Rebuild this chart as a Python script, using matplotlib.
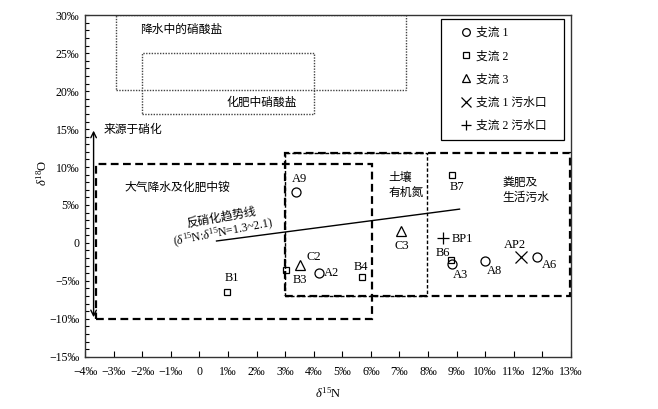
import matplotlib
matplotlib.use("Agg")
import matplotlib.pyplot as plt
from matplotlib.patches import Rectangle
from matplotlib.lines import Line2D

plt.rcParams['font.family'] = ['Liberation Serif', 'Noto Sans CJK SC']
plt.rcParams['mathtext.fontset'] = 'custom'
plt.rcParams['mathtext.rm'] = 'Liberation Serif'
plt.rcParams['mathtext.it'] = 'Liberation Serif:italic'
plt.rcParams['mathtext.bf'] = 'Liberation Serif:bold'
plt.rcParams['axes.unicode_minus'] = True

# ---------------- data ----------------
series_names = ['支流 1', '支流 2', '支流 3', '支流 1 污水口', '支流 2 污水口']
series_markers = ['o', 's', '^', 'x', '+']

# 支流 1 (circles)
s1_labels = ['A9', 'A2', 'A3', 'A8', 'A6']
s1_x = [3.37, 4.20, 8.85, 9.99, 11.80]
s1_y = [6.67, -4.00, -2.82, -2.38, -1.82]
# 支流 2 (squares)
s2_labels = ['B1', 'B3', 'B4', 'B7', 'B6']
s2_x = [0.98, 3.02, 5.70, 8.85, 8.79]
s2_y = [-6.43, -3.57, -4.53, 8.95, -2.25]
# 支流 3 (triangles)
s3_labels = ['C2', 'C3']
s3_x = [3.52, 7.05]
s3_y = [-2.91, 1.61]
# 支流 1 污水口 (x)
s4_labels = ['AP2']
s4_x = [11.24]
s4_y = [-1.90]
# 支流 2 污水口 (+)
s5_labels = ['BP1']
s5_x = [8.53]
s5_y = [0.65]

# source regions (x0, x1, y0, y1)
region_names = ['降水中的硝酸盐', '化肥中硝酸盐', '大气降水及化肥中铵', '土壤\n有机氮', '粪肥及\n生活污水']
region_x0 = [-2.93, -2.0, -3.6, 3.0, 3.0]
region_x1 = [7.22, 4.0, 6.05, 7.95, 12.95]
region_y0 = [20.1, 17.0, -10.0, -7.0, -7.0]
region_y1 = [30.0, 25.0, 10.4, 11.8, 11.8]
region_label_x = [-2.08, 2.18, -2.63, 6.6, 10.6]
region_label_y = [28.1, 18.4, 7.2, 7.6, 6.9]

# denitrification trend line
trend_x = [0.6, 9.1]
trend_y = [0.25, 4.45]

# nitrification arrow
nitri_x = -3.7
nitri_y = [-9.8, 14.8]

x_ticks = list(range(-4, 14))
y_ticks = list(range(-15, 31, 5))


def permil(v):
    if v == 0:
        return '0'
    return ('−' if v < 0 else '') + f'{abs(v)}‰'


# ---------------- figure ----------------
fig = plt.figure(figsize=(6.58, 4.09), dpi=100)
ax = fig.add_axes([0.1292, 0.1279, 0.7386, 0.8347])
ax.set_xlim(-4, 13)
ax.set_ylim(-15, 30)

# regions
region_styles = [
    dict(lw=1.0, ls=(0, (1, 1)), ec='#444444'),
    dict(lw=1.0, ls=(0, (1, 1)), ec='#444444'),
    dict(lw=1.6, ls=(0, (3.5, 2)), ec='black'),
    dict(lw=1.0, ls=(0, (2.5, 1.5)), ec='black'),
    dict(lw=1.6, ls=(0, (3.5, 2)), ec='black'),
]
for x0, x1, y0, y1, st in zip(region_x0, region_x1, region_y0, region_y1, region_styles):
    ax.add_patch(Rectangle((x0, y0), x1 - x0, y1 - y0, fill=False,
                           linewidth=st['lw'], linestyle=st['ls'],
                           edgecolor=st['ec'], zorder=2))
for name, lx, ly, i in zip(region_names, region_label_x, region_label_y, range(5)):
    ha = 'center' if i == 1 else 'left'
    ax.text(lx, ly, name, fontsize=8.5, ha=ha, va='center', linespacing=1.35, zorder=3)

# trend line
ax.plot(trend_x, trend_y, color='black', lw=1.0, zorder=3)
ax.text(0.78, 3.3, '反硝化趋势线', fontsize=8.5, rotation=10, ha='center', va='center',
        rotation_mode='anchor')
ax.text(0.84, 1.3, r'($\delta^{15}$N:$\delta^{15}$N=1.3~2.1)', fontsize=8.5, rotation=11,
        ha='center', va='center', rotation_mode='anchor')

# nitrification arrow
ax.annotate('', xy=(nitri_x, nitri_y[1]), xytext=(nitri_x, nitri_y[0]),
            arrowprops=dict(arrowstyle='<->', color='black', lw=1.0,
                            shrinkA=0, shrinkB=0, mutation_scale=10))
ax.text(-3.35, 14.9, '来源于硝化', fontsize=8.5, ha='left', va='center')

# data points
series = [
    (s1_x, s1_y, s1_labels, 'o', 6.5),
    (s2_x, s2_y, s2_labels, 's', 5),
    (s3_x, s3_y, s3_labels, '^', 7),
    (s4_x, s4_y, s4_labels, 'x', 8),
    (s5_x, s5_y, s5_labels, '+', 9),
]
handles = []
for (xs, ys, labs, m, ms), nm in zip(series, series_names):
    ax.plot(xs, ys, linestyle='none', marker=m, markersize=ms, markerfacecolor='none',
            markeredgecolor='black', markeredgewidth=0.9, zorder=4)
    handles.append(Line2D([], [], linestyle='none', marker=m, markersize=ms * 0.85,
                          markerfacecolor='none', markeredgecolor='black',
                          markeredgewidth=0.9, label=nm))

label_offsets = {
    'A9': (2.6, 9.4, 'center'), 'A2': (3.5, 0.0, 'left'), 'A3': (5.5, -7.7, 'center'),
    'A8': (7.2, -7.0, 'center'), 'A6': (9.1, -6.0, 'center'),
    'B1': (3.2, 9.6, 'center'), 'B3': (10.3, -7.2, 'center'), 'B4': (-1.0, 7.6, 'center'),
    'B7': (3.2, -8.4, 'center'), 'B6': (-5.3, 4.8, 'center'),
    'C2': (9.6, 6.0, 'center'), 'C3': (0.5, -11.0, 'center'),
    'AP2': (-4.1, 8.9, 'center'), 'BP1': (6.0, -0.5, 'left'),
}
for xs, ys, labs, m, ms in series:
    for x, y, lab in zip(xs, ys, labs):
        dx, dy, ha = label_offsets[lab]
        ax.annotate(lab, (x, y), xytext=(dx, dy), textcoords='offset points',
                    fontsize=9, ha=ha, va='center', zorder=5)

# legend
leg = ax.legend(handles=handles, loc='upper left', mode='expand',
                bbox_to_anchor=(0.732, 0.637, 0.254, 0.351), borderaxespad=0,
                fancybox=False, edgecolor='black', framealpha=1, fontsize=8.5,
                handlelength=3.0, handletextpad=-0.7, borderpad=0.65, labelspacing=0.95,
                numpoints=1)
leg.get_frame().set_linewidth(0.9)

# axes styling
for sp in ax.spines.values():
    sp.set_linewidth(1.0)
    sp.set_color('#333333')
ax.set_xticks(x_ticks)
ax.set_xticklabels([permil(v) for v in x_ticks])
ax.set_yticks(y_ticks)
ax.set_yticklabels([permil(v) for v in y_ticks])
ax.set_yticks(list(range(-15, 31)), minor=True)
ax.tick_params(axis='x', direction='in', length=4, width=0.8, pad=7, labelsize=8.5,
               top=False)
ax.tick_params(axis='y', which='both', direction='in', length=3, width=0.8, pad=4,
               labelsize=8.5, right=False)
ax.tick_params(axis='x', which='minor', bottom=False)

ax.set_xlabel(r'$\delta^{15}$N', fontsize=9)
ax.set_ylabel(r'$\delta^{18}$O', fontsize=9)
ax.xaxis.set_label_coords(0.5, -0.085)
ax.yaxis.set_label_coords(-0.072, 0.538)

fig.savefig('out.png', dpi=100)
